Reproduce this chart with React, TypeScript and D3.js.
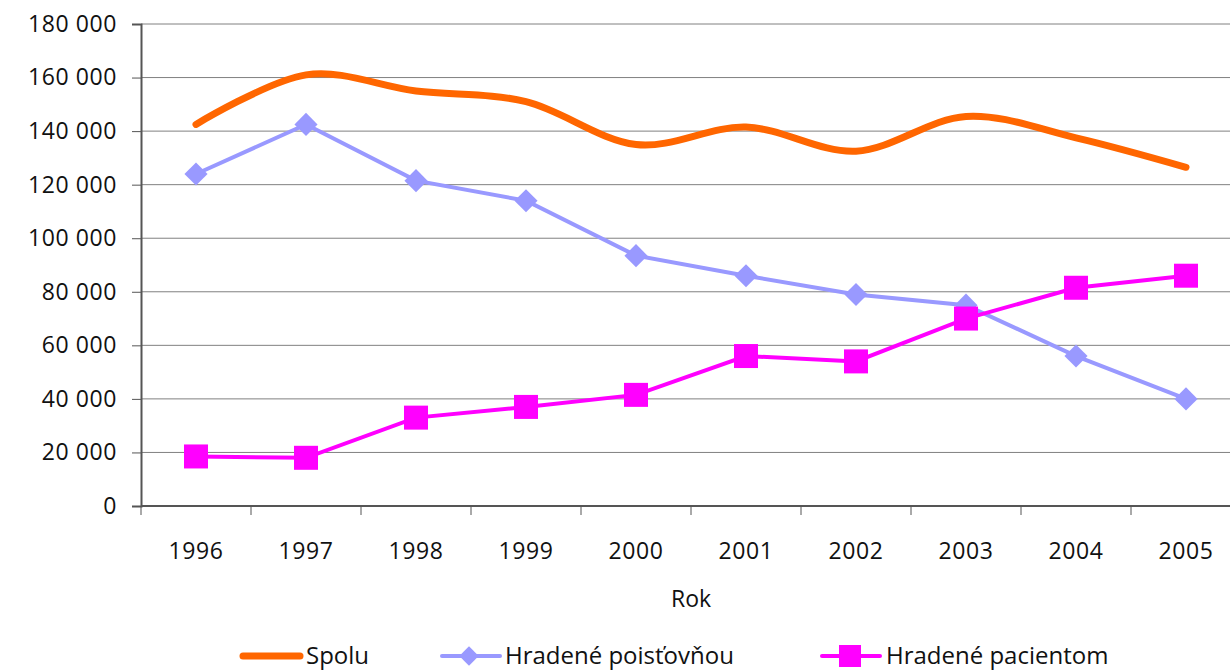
import React, { useEffect, useRef } from "react";
import * as d3 from "d3";

const years = ["1996", "1997", "1998", "1999", "2000", "2001", "2002", "2003", "2004", "2005"];
const spolu = [142500, 161000, 155000, 151000, 135000, 141500, 132500, 145500, 137500, 126500];
const poistovnou = [124000, 142500, 121500, 114000, 93500, 86000, 79000, 75000, 56000, 40000];
const pacientom = [18500, 18000, 33000, 37000, 41500, 56000, 54000, 70000, 81500, 86000];
const yTicks = [0, 20000, 40000, 60000, 80000, 100000, 120000, 140000, 160000, 180000];

const FONT = "'Open Sans', Lato, sans-serif";

const fmt = (v: number) => d3.format(",")(v).replace(/,/g, " ");

const App = () => {
  const svgRef = useRef<SVGSVGElement>(null);

  useEffect(() => {
    if (!svgRef.current) return;
    const svg = d3.select(svgRef.current);
    svg.selectAll("*").remove();

    const left = 141;
    const top = 24;
    const bottom = 506;

    const x = d3.scaleBand<string>().domain(years).range([left, left + 110 * years.length]);
    const y = d3.scaleLinear().domain([0, 180000]).range([bottom, top]);
    const cx = (i: number) => (x(years[i]) as number) + x.bandwidth() / 2;

    // grid
    svg
      .append("g")
      .selectAll("line")
      .data(yTicks.filter((d) => d > 0))
      .enter()
      .append("line")
      .attr("x1", left)
      .attr("x2", 1230)
      .attr("y1", (d) => y(d))
      .attr("y2", (d) => y(d))
      .attr("stroke", "#808080")
      .attr("stroke-width", 1);

    // y axis
    const yAxis = svg.append("g").attr("transform", `translate(${left},0)`).call(
      d3.axisLeft(y).tickValues(yTicks).tickSize(9).tickFormat((d) => fmt(d as number))
    );
    yAxis.select(".domain").attr("stroke", "#555").attr("stroke-width", 2);
    yAxis.selectAll(".tick line").attr("stroke", "#555");
    yAxis
      .selectAll(".tick text")
      .attr("x", -24)
      .attr("font-family", FONT)
      .attr("font-size", 23)
      .attr("letter-spacing", 0.6)
      .attr("fill", "#111");

    // x axis
    const xAxis = svg.append("g").attr("transform", `translate(0,${bottom})`);
    xAxis
      .append("line")
      .attr("x1", left)
      .attr("x2", 1230)
      .attr("stroke", "#555")
      .attr("stroke-width", 2);
    xAxis
      .selectAll("line.tk")
      .data(years)
      .enter()
      .append("line")
      .attr("class", "tk")
      .attr("x1", (d) => x(d) as number)
      .attr("x2", (d) => x(d) as number)
      .attr("y1", 0)
      .attr("y2", 9)
      .attr("stroke", "#555");
    xAxis
      .selectAll("text")
      .data(years)
      .enter()
      .append("text")
      .attr("x", (d, i) => cx(i))
      .attr("y", 53)
      .attr("text-anchor", "middle")
      .attr("font-family", FONT)
      .attr("font-size", 23)
      .attr("letter-spacing", 0.6)
      .attr("fill", "#111")
      .text((d) => d);

    svg
      .append("text")
      .attr("x", 691)
      .attr("y", 607)
      .attr("text-anchor", "middle")
      .attr("font-family", FONT)
      .attr("font-size", 23)
      .attr("fill", "#111")
      .text("Rok");

    // lines
    const smooth = d3
      .line<number>()
      .x((d, i) => cx(i))
      .y((d) => y(d))
      .curve(d3.curveCatmullRom.alpha(0));
    const straight = d3
      .line<number>()
      .x((d, i) => cx(i))
      .y((d) => y(d));

    svg
      .append("path")
      .attr("d", smooth(spolu))
      .attr("fill", "none")
      .attr("stroke", "#ff6600")
      .attr("stroke-width", 7)
      .attr("stroke-linecap", "round");

    svg
      .append("path")
      .attr("d", straight(poistovnou))
      .attr("fill", "none")
      .attr("stroke", "#9999ff")
      .attr("stroke-width", 4);

    svg
      .append("g")
      .selectAll("path")
      .data(poistovnou)
      .enter()
      .append("path")
      .attr("d", d3.symbol().type(d3.symbolDiamond2).size(340)() as string)
      .attr("transform", (d, i) => `translate(${cx(i)},${y(d)})`)
      .attr("fill", "#9999ff");

    svg
      .append("path")
      .attr("d", straight(pacientom))
      .attr("fill", "none")
      .attr("stroke", "#ff00ff")
      .attr("stroke-width", 4);

    svg
      .append("g")
      .selectAll("rect")
      .data(pacientom)
      .enter()
      .append("rect")
      .attr("x", (d, i) => cx(i) - 12)
      .attr("y", (d) => y(d) - 12)
      .attr("width", 24)
      .attr("height", 24)
      .attr("fill", "#ff00ff");

    // legend
    const lg = svg.append("g").attr("font-family", FONT).attr("font-size", 24).attr("fill", "#111");
    lg.append("line")
      .attr("x1", 243).attr("x2", 300).attr("y1", 656).attr("y2", 656)
      .attr("stroke", "#ff6600").attr("stroke-width", 7).attr("stroke-linecap", "round");
    lg.append("text").attr("x", 306).attr("y", 664).text("Spolu");

    lg.append("line")
      .attr("x1", 442).attr("x2", 500).attr("y1", 656).attr("y2", 656)
      .attr("stroke", "#9999ff").attr("stroke-width", 4).attr("stroke-linecap", "round");
    lg.append("path")
      .attr("d", d3.symbol().type(d3.symbolDiamond2).size(240)() as string)
      .attr("transform", "translate(469,656)")
      .attr("fill", "#9999ff");
    lg.append("text").attr("x", 505).attr("y", 664).text("Hradené poisťovňou");

    lg.append("line")
      .attr("x1", 822).attr("x2", 880).attr("y1", 656).attr("y2", 656)
      .attr("stroke", "#ff00ff").attr("stroke-width", 4).attr("stroke-linecap", "round");
    lg.append("rect")
      .attr("x", 839).attr("y", 645).attr("width", 22).attr("height", 22)
      .attr("fill", "#ff00ff");
    lg.append("text").attr("x", 886).attr("y", 664).text("Hradené pacientom");
  }, []);

  return (
    <svg
      ref={svgRef}
      width={1230}
      height={671}
      style={{ position: "absolute", left: 0, top: 0, background: "#fff" }}
    />
  );
};

export default App;
